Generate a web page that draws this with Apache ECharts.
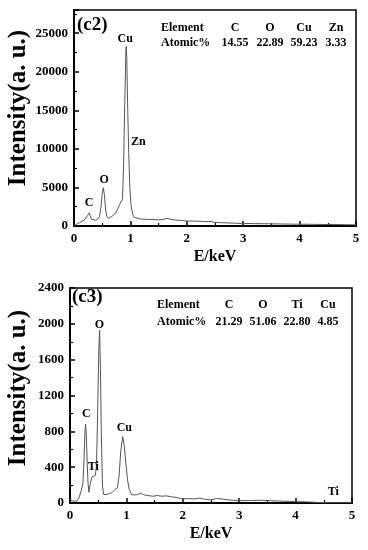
<!DOCTYPE html>
<html>
<head>
<meta charset="utf-8">
<script src="https://cdn.jsdelivr.net/npm/echarts@6/dist/echarts.min.js"></script>
<style>
html,body{margin:0;padding:0;background:#fff;}
#chart{width:368px;height:550px;}
</style>
</head>
<body>
<div id="chart"></div>
<script>
// ---- data (c2) ----
var c2Energy = [0.00,0.03,0.06,0.10,0.14,0.18,0.21,0.24,0.27,0.29,0.31,0.34,0.38,0.42,0.45,0.48,0.50,0.52,0.54,0.56,0.58,0.61,0.65,0.70,0.74,0.78,0.81,0.84,0.86,0.88,0.90,0.92,0.925,0.935,0.95,0.97,0.99,1.01,1.04,1.07,1.10,1.20,1.30,1.40,1.50,1.58,1.65,1.72,1.80,1.90,2.00,2.10,2.20,2.30,2.38,2.43,2.48,2.60,2.80,3.00,3.20,3.40,3.60,3.80,4.00,4.20,4.40,4.60,4.80,5.00];
var c2Counts = [0,150,300,450,600,750,950,1350,1700,1450,900,650,750,900,1200,2500,4200,4950,4000,2200,1300,1000,1150,1400,1700,2300,2800,2600,3500,8000,16000,22500,23300,22000,16000,9500,5000,2800,1500,1100,950,880,860,840,800,850,1000,850,780,720,650,640,620,580,560,600,480,430,380,330,310,290,270,250,230,220,200,190,170,150];
var c2PeakNames = ['C','O','Cu','Zn'];
var c2PeakE = [0.267,0.534,0.907,1.14];
var c2PeakY = [2960,5950,24300,10890];
var c2Elements = ['C','O','Cu','Zn'];
var c2Atomic = ['14.55','22.89','59.23','3.33'];

// ---- data (c3) ----
var c3Energy = [0.00,0.04,0.08,0.12,0.16,0.20,0.23,0.25,0.265,0.277,0.29,0.305,0.32,0.335,0.36,0.39,0.42,0.45,0.47,0.49,0.51,0.525,0.54,0.555,0.575,0.595,0.65,0.70,0.75,0.80,0.84,0.87,0.90,0.935,0.96,0.99,1.02,1.05,1.09,1.15,1.20,1.25,1.30,1.35,1.42,1.48,1.55,1.62,1.70,1.80,1.90,2.00,2.10,2.20,2.30,2.40,2.50,2.60,2.70,2.80,2.90,3.00,3.20,3.40,3.55,3.70,3.90,4.05,4.20,4.40,4.60,4.80,5.00];
var c3Counts = [40,25,20,20,60,140,230,500,800,880,750,450,220,120,220,290,275,310,420,1000,1700,1930,1500,800,200,95,95,105,120,150,170,300,580,740,650,450,260,150,95,90,95,110,95,85,80,75,85,75,80,70,60,45,50,45,55,40,35,50,45,35,30,26,28,30,26,22,18,14,12,6,4,3,2];
var c3PeakNames = ['C','Ti','O','Cu','Ti'];
var c3PeakE = [0.289,0.413,0.52,0.963,4.67];
var c3PeakY = [997,404,1986,839,126];
var c3Elements = ['C','O','Ti','Cu'];
var c3Atomic = ['21.29','51.06','22.80','4.85'];

// ---- axis ticks ----
var xMin = 0, xMax = 5, xStep = 1;
var c2YMax = 28000, c2YStep = 5000;
var c3YMax = 2400, c3YStep = 400;
var yTitle = 'Intensity(a. u.)';
var xTitle = 'E/keV';

var FONT = '"Liberation Serif","Times New Roman",serif';
function zip(a,b){ return a.map(function(v,i){ return [v,b[i]]; }); }
function peaks(names,xs,ys){
  return names.map(function(n,i){
    return {coord:[xs[i],ys[i]], value:n, label:{formatter:n}};
  });
}
function xAxisCfg(gi){
  return {
    gridIndex: gi, type:'value', min:xMin, max:xMax, interval:xStep,
    name:xTitle, nameLocation:'middle', nameGap:23,
    nameTextStyle:{fontFamily:FONT, fontWeight:'bold', fontSize:16, color:'#000'},
    axisLine:{show:true, lineStyle:{color:'#000', width:2}},
    axisTick:{show:true, inside:true, length:5, lineStyle:{color:'#000', width:1.5}},
    minorTick:{show:true, splitNumber:2, length:3, lineStyle:{color:'#000', width:1.2}},
    splitLine:{show:false}, minorSplitLine:{show:false},
    axisLabel:{fontFamily:FONT, fontWeight:'bold', fontSize:13, color:'#000', margin:6,
      formatter:function(v){ return String(v); }}
  };
}
function yAxisCfg(gi,max,step){
  return {
    gridIndex: gi, type:'value', min:0, max:max, interval:step,
    axisLine:{show:true, lineStyle:{color:'#000', width:2}},
    axisTick:{show:true, inside:true, length:5, lineStyle:{color:'#000', width:1.5}},
    minorTick:{show:true, splitNumber:2, length:3, lineStyle:{color:'#000', width:1.2}},
    splitLine:{show:false}, minorSplitLine:{show:false},
    axisLabel:{fontFamily:FONT, fontWeight:'bold', fontSize:13, color:'#000', margin:6,
      showMaxLabel: (max % step === 0),
      formatter:function(v){ return String(v); }}
  };
}
function seriesCfg(gi,e,c,pk){
  return {
    type:'line', xAxisIndex:gi, yAxisIndex:gi, data:zip(e,c),
    showSymbol:false, symbol:'none', animation:false,
    lineStyle:{color:'#555', width:1},
    markPoint:{
      symbol:'circle', symbolSize:1, animation:false,
      itemStyle:{color:'rgba(0,0,0,0)'},
      label:{show:true, position:'inside', color:'#000', fontFamily:FONT, fontWeight:'bold', fontSize:12},
      data:pk
    }
  };
}
function tableTexts(left,yHead,yVal,cols,els,vals){
  var out = [];
  out.push({type:'text', x:left, y:yHead, style:{text:'Element', font:'bold 12px '+FONT, fill:'#000', verticalAlign:'middle'}});
  out.push({type:'text', x:left, y:yVal, style:{text:'Atomic%', font:'bold 12px '+FONT, fill:'#000', verticalAlign:'middle'}});
  els.forEach(function(el,i){
    out.push({type:'text', x:cols[i], y:yHead, style:{text:el, font:'bold 12px '+FONT, fill:'#000', align:'center', verticalAlign:'middle'}});
    out.push({type:'text', x:cols[i], y:yVal, style:{text:vals[i], font:'bold 12px '+FONT, fill:'#000', align:'center', verticalAlign:'middle'}});
  });
  return out;
}
function yTitleText(cx,cy){
  return {type:'text', x:cx, y:cy, rotation:Math.PI/2,
    style:{text:yTitle, font:'bold 25px '+FONT, fill:'#000', align:'center', verticalAlign:'middle'}};
}

var chart = echarts.init(document.getElementById('chart'), null, {renderer:'canvas'});
var graphics = [
  {type:'text', x:77, y:25, style:{text:'(c2)', font:'bold 19px '+FONT, fill:'#000', verticalAlign:'middle'}},
  {type:'text', x:72, y:297, style:{text:'(c3)', font:'bold 19px '+FONT, fill:'#000', verticalAlign:'middle'}},
  yTitleText(19,108),
  yTitleText(19,388)
].concat(tableTexts(161,28,43,[235,270,304,336],c2Elements,c2Atomic))
 .concat(tableTexts(157,305,322,[229,263,297,328],c3Elements,c3Atomic));

chart.setOption({
  animation:false,
  backgroundColor:'#fff',
  grid:[
    {left:74, top:10, width:282, height:216, show:true, borderColor:'#000', borderWidth:1.5, backgroundColor:'transparent', containLabel:false, outerBoundsMode:'none'},
    {left:70, top:288, width:282, height:215, show:true, borderColor:'#000', borderWidth:1.5, backgroundColor:'transparent', containLabel:false, outerBoundsMode:'none'}
  ],
  xAxis:[xAxisCfg(0), xAxisCfg(1)],
  yAxis:[yAxisCfg(0,c2YMax,c2YStep), yAxisCfg(1,c3YMax,c3YStep)],
  series:[
    seriesCfg(0,c2Energy,c2Counts,peaks(c2PeakNames,c2PeakE,c2PeakY)),
    seriesCfg(1,c3Energy,c3Counts,peaks(c3PeakNames,c3PeakE,c3PeakY))
  ],
  graphic:graphics
});
</script>
</body>
</html>
